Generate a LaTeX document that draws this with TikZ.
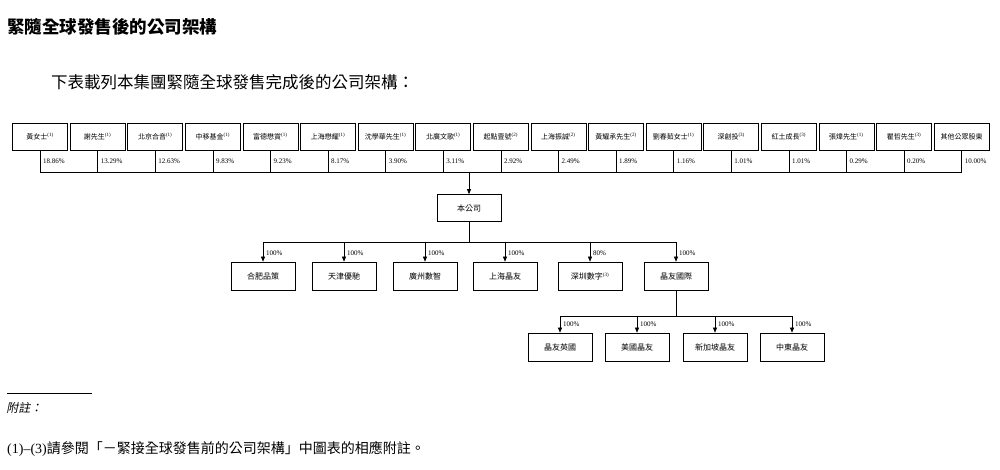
\documentclass[tikz,border=0pt]{standalone}
\usepackage{fontspec}
\setmainfont{Liberation Serif}
\newfontfamily\cjk{Noto Sans CJK TC}
\usetikzlibrary{arrows.meta}
\begin{document}
\begin{tikzpicture}[x=1pt,y=-1pt,
  top/.style={draw,line width=0.6pt,minimum width=55pt,minimum height=27pt,inner sep=0pt,font=\cjk\fontsize{7}{8}\selectfont},
  box/.style={draw,line width=0.7pt,minimum width=64pt,minimum height=28pt,inner sep=0pt,font=\cjk\fontsize{8}{9}\selectfont},
  pct/.style={font=\fontsize{7}{8}\selectfont,anchor=west,inner sep=1pt},
  ln/.style={line width=0.6pt},
  arr/.style={ln,-{Triangle[length=5pt,width=4pt]}}]
\useasboundingbox (0,0) rectangle (1000,469);
\node[anchor=west,font=\cjk\bfseries\fontsize{17.5}{19}\selectfont,inner sep=0pt] (title) at (7,27) {緊隨全球發售後的公司架構};
\node[anchor=west,font=\cjk\fontsize{16.5}{18}\selectfont,inner sep=0pt] (sub) at (51,82) {下表載列本集團緊隨全球發售完成後的公司架構：};
\def\sup#1{\textsuperscript{\rmfamily\fontsize{5}{5}\selectfont(#1)}}
\foreach \i/\t/\p in {0/黃女士\sup1/18.86\%,1/謝先生\sup1/13.29\%,2/北京合音\sup1/12.63\%,3/中移基金\sup1/9.83\%,4/富德懋賞\sup1/9.23\%,5/上海懋耀\sup1/8.17\%,6/沈學華先生\sup1/3.90\%,7/北廣文歌\sup1/3.11\%,8/起點壹號\sup2/2.92\%,9/上海振誠\sup2/2.49\%,10/黃耀承先生\sup2/1.89\%,11/劉春茹女士\sup1/1.16\%,12/深創投\sup3/1.01\%,13/紅土成長\sup3/1.01\%,14/張煒先生\sup1/0.29\%,15/瞿哲先生\sup3/0.20\%,16/其他公眾股東/10.00\%}{
  \node[top] (s\i) at (40+57.6*\i,136.5) {\t};
  \coordinate (b\i) at (40+57.6*\i,172);
  \draw[ln] (s\i.south) -- (b\i);
  \node[pct] (p\i) at (40+57.6*\i+2,161) {\p};
}
\draw[ln] (b0) -- (b16);
\node[box,minimum width=64pt,minimum height=27pt] (co) at (469,208) {本公司};
\coordinate (c7) at (469,172);
\draw[arr] (c7) -- (co.north);
\coordinate (h1) at (469,242);
\draw[ln] (co.south) -- (h1);
\foreach \i/\x/\t/\p in {1/263/合肥品策/100\%,2/344/天津優馳/100\%,3/425/廣州數智/100\%,4/505/上海晶友/100\%,5/590/深圳數字\sup3/80\%,6/676/晶友國際/100\%}{
  \node[box] (k\i) at (\x,276) {\t};
  \coordinate (t\i) at (\x,242);
  \draw[arr] (t\i) -- (k\i.north);
  \node[pct] (q\i) at (\x+2,253) {\p};
}
\draw[ln] (t1) -- (t6);
\coordinate (h2) at (676,316);
\draw[ln] (k6.south) -- (h2);
\foreach \i/\x/\t in {1/560/晶友英國,2/637/美國晶友,3/715/新加坡晶友,4/792/中東晶友}{
  \node[box] (g\i) at (\x,347) {\t};
  \coordinate (u\i) at (\x,316);
  \draw[arr] (u\i) -- (g\i.north);
  \node[pct] (r\i) at (\x+2,324) {100\%};
}
\draw[ln] (u1) -- (u4);
\coordinate (f1) at (7,393); \coordinate (f2) at (92,393);
\draw[line width=0.5pt] (f1) -- (f2);
\node[anchor=west,font=\cjk\fontsize{12}{14}\selectfont,inner sep=0pt,xslant=0.2] (fn) at (7,408) {附註：};
\node[anchor=west,font=\cjk\fontsize{14}{16}\selectfont,inner sep=0pt] (fn2) at (7,449) {\rmfamily(1)–(3)\cjk 請參閱「－緊接全球發售前的公司架構」中圖表的相應附註。};
\end{tikzpicture}
\end{document}
